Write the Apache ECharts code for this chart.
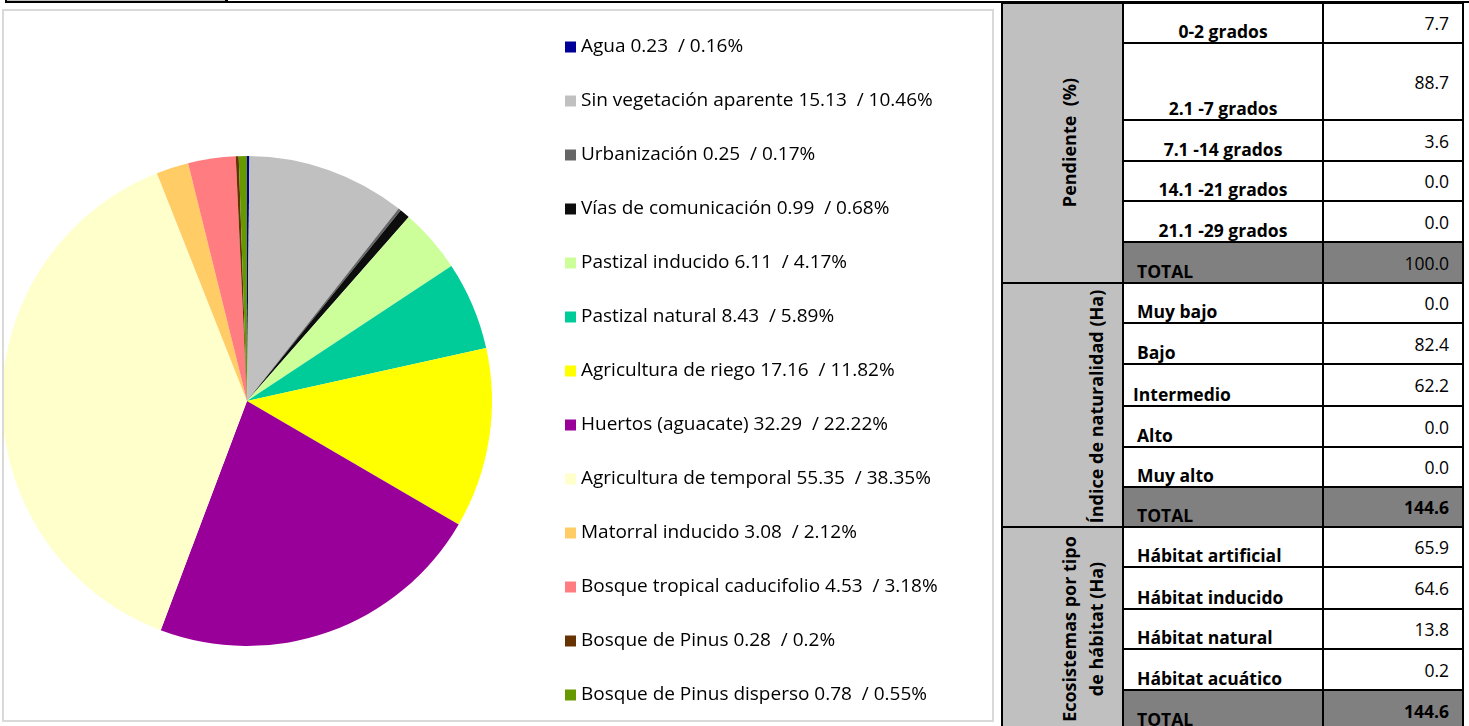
<!DOCTYPE html>
<html>
<head>
<meta charset="utf-8">
<title>Uso de suelo y vegetación</title>
<script src="https://cdn.jsdelivr.net/npm/echarts@6/dist/echarts.min.js"></script>
<style>
  html, body { margin: 0; padding: 0; background: #fff; width: 1469px; height: 726px; overflow: hidden; }
  body { position: relative; font-family: "Open Sans", Lato, sans-serif; color: #000; }
  .abs { position: absolute; }
  #chart { position: absolute; left: 2px; top: 9px; width: 992px; height: 713px; box-sizing: border-box; border: 2px solid #d9d9d9; }
  .black { background: #000; }
  .name { display: flex; align-items: flex-end; font-weight: bold; font-size: 17.5px; line-height: 20px; box-sizing: border-box; padding-bottom: 2px; white-space: nowrap; }
  .val { display: flex; align-items: center; justify-content: flex-end; font-size: 17.5px; line-height: 20px; box-sizing: border-box; padding-right: 14px; padding-bottom: 0px; white-space: nowrap; }
  .vlabel { font-weight: bold; font-size: 18px; white-space: nowrap; text-align: center; line-height: 27px; }
</style>
</head>
<body>
<div id="chart"></div>
<div id="table"></div>
<script>
// Land use / vegetation classes: area (ha) and share (%)
const landUse = [
  'Agua', 'Sin vegetación aparente', 'Urbanización', 'Vías de comunicación',
  'Pastizal inducido', 'Pastizal natural', 'Agricultura de riego', 'Huertos (aguacate)',
  'Agricultura de temporal', 'Matorral inducido', 'Bosque tropical caducifolio',
  'Bosque de Pinus', 'Bosque de Pinus disperso'
];
const areaHa = [0.23, 15.13, 0.25, 0.99, 6.11, 8.43, 17.16, 32.29, 55.35, 3.08, 4.53, 0.28, 0.78];
const sharePct = [0.16, 10.46, 0.17, 0.68, 4.17, 5.89, 11.82, 22.22, 38.35, 2.12, 3.18, 0.2, 0.55];
const landColors = [
  '#000099', '#c0c0c0', '#666666', '#0d0d0d', '#ccff99', '#00cc99', '#ffff00',
  '#990099', '#ffffcc', '#ffcc66', '#ff7c80', '#663300', '#669900'
];

// Summary table
const slopeTitle = 'Pendiente  (%)';
const slopeClasses = ['0-2 grados', '2.1 -7 grados', '7.1 -14 grados', '14.1 -21 grados', '21.1 -29 grados'];
const slopeValues = [7.7, 88.7, 3.6, 0.0, 0.0];
const slopeTotal = 100.0;

const naturalnessTitle = 'Índice de naturalidad (Ha)';
const naturalnessClasses = ['Muy bajo', 'Bajo', 'Intermedio', 'Alto', 'Muy alto'];
const naturalnessValues = [0.0, 82.4, 62.2, 0.0, 0.0];
const naturalnessTotal = 144.6;

const habitatTitle = ['Ecosistemas por tipo', 'de hábitat (Ha)'];
const habitatClasses = ['Hábitat artificial', 'Hábitat inducido', 'Hábitat natural', 'Hábitat acuático'];
const habitatValues = [65.9, 64.6, 13.8, 0.2];
const habitatTotal = 144.6;

// ---- pie chart ----
const chart = echarts.init(document.getElementById('chart'));
chart.setOption({
  animation: false,
  legend: {
    orient: 'vertical',
    left: 561,
    top: 26,
    padding: 0,
    itemWidth: 11,
    itemHeight: 11,
    itemGap: 34,
    icon: 'rect',
    selectedMode: false,
    textStyle: { fontFamily: 'Open Sans', fontSize: 19, color: '#000', lineHeight: 20 },
    formatter: function (name) {
      const i = landUse.indexOf(name);
      return name + ' ' + areaHa[i] + '  / ' + sharePct[i] + '%';
    },
    data: landUse
  },
  series: [{
    type: 'pie',
    center: [243, 390],
    radius: 245,
    startAngle: 90,
    clockwise: true,
    label: { show: false },
    labelLine: { show: false },
    emphasis: { disabled: true },
    itemStyle: { borderWidth: 0 },
    data: landUse.map((n, i) => ({ name: n, value: areaHa[i], itemStyle: { color: landColors[i] } }))
  }]
});

// ---- table layout ----
const colX = [1002, 1123, 1323, 1463];
const sectionTop = [3, 283, 527];
const rowHeights = [
  [40, 77, 41, 40, 41, 41],
  [40, 41, 42, 41, 40, 40],
  [40, 42, 40, 41, 41]
];
const nameAlign = ['center', 'left', 'left'];
const sections = [
  { classes: slopeClasses, values: slopeValues, total: slopeTotal, boldTotal: false },
  { classes: naturalnessClasses, values: naturalnessValues, total: naturalnessTotal, boldTotal: true },
  { classes: habitatClasses, values: habitatValues, total: habitatTotal, boldTotal: true }
];
const table = document.getElementById('table');
function box(cls, x, y, w, h, bg) {
  const d = document.createElement('div');
  d.className = 'abs ' + (cls || '');
  d.style.left = x + 'px'; d.style.top = y + 'px';
  d.style.width = w + 'px'; d.style.height = h + 'px';
  if (bg) d.style.background = bg;
  table.appendChild(d);
  return d;
}

// top strip
box('', 6, 0, 220, 2, '#bfbfbf');
box('black', 5, 0, 2, 3);
box('black', 225, 0, 3, 3);
box('black', 5, 1, 1464, 2);

sections.forEach((s, si) => {
  const heights = rowHeights[si];
  const top = sectionTop[si];
  const total = heights.reduce((a, b) => a + b, 0);
  box('', colX[0], top, colX[1] - colX[0], total, '#c0c0c0');
  let y = top;
  const labels = s.classes.concat(['TOTAL']);
  const vals = s.values.concat([s.total]);
  labels.forEach((lab, ri) => {
    const h = heights[ri];
    const isTotal = ri === labels.length - 1;
    if (isTotal) box('', colX[1], y, colX[3] - colX[1], h, '#808080');
    const n = box('name', colX[1], y, colX[2] - colX[1], h);
    n.textContent = lab;
    const align = isTotal ? 'left' : nameAlign[si];
    if (align === 'center') { n.style.justifyContent = 'center'; }
    else { n.style.paddingLeft = (lab === 'Intermedio' ? 10 : 14) + 'px'; }
    const v = box('val', colX[2], y, colX[3] - colX[2], h);
    v.textContent = vals[ri].toFixed(1);
    if (isTotal && s.boldTotal) v.style.fontWeight = 'bold';
    if (ri > 0) box('black', colX[1], y - 1, colX[3] - colX[1] + 1, 2);
    y += h;
  });
  box('black', colX[0] - 1, top - 1, colX[3] - colX[0] + 2, 2);
});

// vertical grid lines
colX.forEach(x => box('black', x - 1, 1, 2, 725));

// rotated section titles
function vlabel(html, cx, cy) {
  const d = document.createElement('div');
  d.className = 'abs vlabel';
  d.innerHTML = html;
  table.appendChild(d);
  d.style.left = (cx - d.offsetWidth / 2) + 'px';
  d.style.top = (cy - d.offsetHeight / 2) + 'px';
  d.style.transform = 'rotate(-90deg)';
  return d;
}
vlabel(slopeTitle.replace(/ /g, '&nbsp;'), 1069, 142);
vlabel(naturalnessTitle, 1097, 406);
vlabel(habitatTitle.join('<br>'), 1083, 629);
</script>
</body>
</html>
